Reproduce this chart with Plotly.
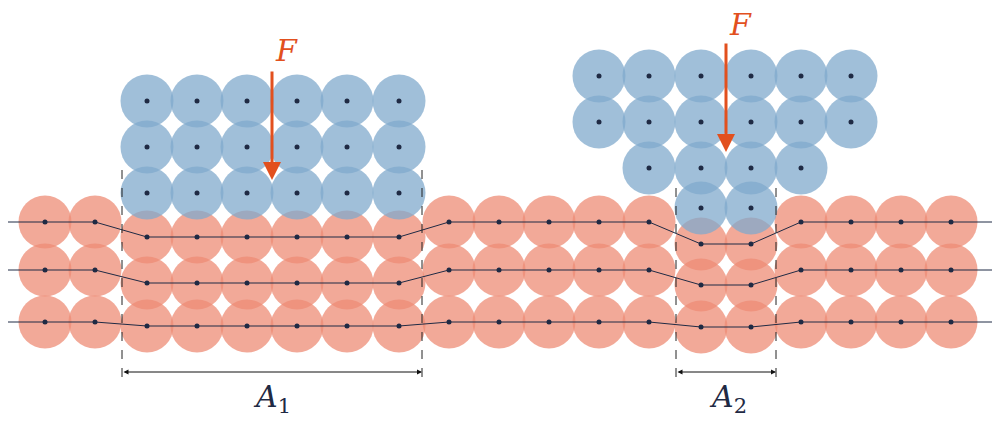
import plotly.graph_objects as go

# substrate columns (x) and row y per column
sub_x = [45, 95, 147, 197, 247, 297, 347, 399, 449, 499, 549, 599, 649, 701, 751, 801, 851, 901, 951]
row_top = [222]*2 + [237]*6 + [222]*5 + [244]*2 + [222]*4
row_mid = [270]*2 + [283]*6 + [270]*5 + [285]*2 + [270]*4
row_bot = [322]*2 + [326]*6 + [322]*5 + [327]*2 + [322]*4
rows = [row_top, row_mid, row_bot]

# blue block 1
b1_x = [147, 197, 247, 297, 347, 399]
b1_y = [101, 147, 193]
# blue block 2 (rows with their columns)
b2_rows = [
    ([599, 649, 701, 751, 801, 851], 76),
    ([599, 649, 701, 751, 801, 851], 122),
    ([649, 701, 751, 801], 168),
    ([701, 751], 208),
]

RED = "rgba(238,140,118,0.75)"
BLUE = "rgba(128,170,204,0.75)"
DOT = "#1f2a44"
ORANGE = "#e2501e"

fig = go.Figure()
rx, ry = [], []
for r in rows:
    rx += sub_x; ry += r
fig.add_trace(go.Scatter(x=rx, y=ry, mode="markers",
                         marker=dict(size=53, color=RED, line=dict(width=0))))
bx, by = [], []
for y in b1_y:
    bx += b1_x; by += [y]*len(b1_x)
for xs, y in b2_rows:
    bx += xs; by += [y]*len(xs)
fig.add_trace(go.Scatter(x=bx, y=by, mode="markers",
                         marker=dict(size=53, color=BLUE, line=dict(width=0))))
for r in rows:
    fig.add_trace(go.Scatter(x=[5] + sub_x + [995], y=[r[0]] + r + [r[-1]], mode="lines",
                             line=dict(color=DOT, width=1)))
fig.add_trace(go.Scatter(x=rx + bx, y=ry + by, mode="markers",
                         marker=dict(size=5, color=DOT)))

# dashed bounds
for x0, y0 in [(122, 170), (422, 170), (676, 188), (776, 188)]:
    fig.add_shape(type="line", x0=x0, x1=x0, y0=y0, y1=385,
                  line=dict(color="#222", width=1, dash="dash"))

ann = []
for (xa, xb) in [(122, 422), (676, 776)]:
    ann.append(dict(x=xb, y=372, ax=xa, ay=372, xref="x", yref="y", axref="x", ayref="y",
                    showarrow=True, arrowhead=2, startarrowhead=2, arrowside="end+start",
                    arrowsize=1, arrowwidth=1, arrowcolor="#111", text=""))
ann.append(dict(x=272, y=398, text="<i>A</i><sub>1</sub>", showarrow=False,
                font=dict(size=30, color=DOT, family="DejaVu Serif")))
ann.append(dict(x=728, y=398, text="<i>A</i><sub>2</sub>", showarrow=False,
                font=dict(size=30, color=DOT, family="DejaVu Serif")))
for xa, y0, y1, fy in [(272, 70, 180, 50), (726, 42, 152, 24)]:
    ann.append(dict(x=xa, y=y1, ax=xa, ay=y0, xref="x", yref="y", axref="x", ayref="y",
                    showarrow=True, arrowhead=2, arrowsize=1.2, arrowwidth=3,
                    arrowcolor=ORANGE, text=""))
    ann.append(dict(x=xa + 14, y=fy, text="<i>F</i>", showarrow=False,
                    font=dict(size=30, color=ORANGE, family="DejaVu Serif")))

fig.update_layout(width=992, height=415, margin=dict(l=0, r=0, t=0, b=0),
                  plot_bgcolor="white", paper_bgcolor="white", showlegend=False,
                  annotations=ann,
                  xaxis=dict(range=[8, 1000], visible=False),
                  yaxis=dict(range=[423, 8], visible=False))
fig.write_html("out.html")
